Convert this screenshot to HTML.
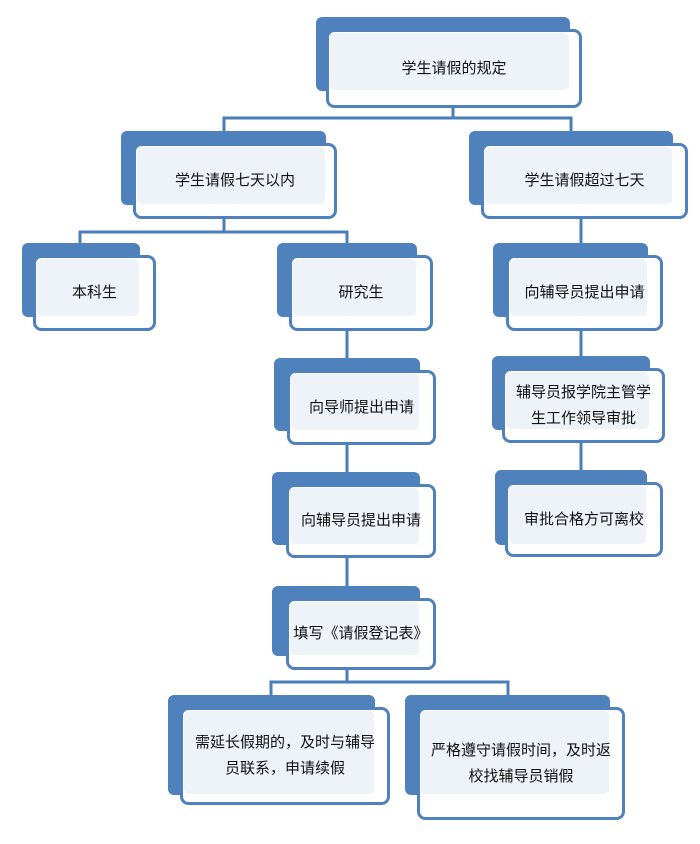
<!DOCTYPE html>
<html><head><meta charset="utf-8"><style>
body{margin:0;background:#fff;width:700px;height:844px;overflow:hidden}
svg{position:absolute;left:0;top:0}
.t{position:absolute;display:flex;align-items:center;justify-content:center;text-align:center;font-family:"Liberation Sans","Noto Sans CJK SC",sans-serif;font-size:15px;color:#111;line-height:26px}
</style></head><body>
<svg width="700" height="844" viewBox="0 0 700 844">
<g fill="none" stroke="#4a7ebb" stroke-width="3">
<path d="M453 107V118M224 131V118H571V131"/>
<path d="M224 219V232M80 243V232H347V243"/>
<path d="M581 219V243M581 331V358M581 441V472"/>
<path d="M347 331V358M347 445V472M347 558V586"/>
<path d="M347 670V682M271 695V682H508V695"/>
</g>
<g id="n"></g>
</svg>
<div id="c"></div>
<script>
var N=[
[316,17,570,91,326,29,582,108,"学生请假的规定"],
[121,131,326,205,133,143,337,219,"学生请假七天以内"],
[469,131,673,205,481,143,688,219,"学生请假超过七天"],
[22,243,140,317,33,255,156,331,"本科生"],
[277,243,417,317,289,255,433,331,"研究生"],
[493,243,648,317,506,255,663,331,"向辅导员提出申请"],
[274,358,420,431,287,370,436,445,"向导师提出申请"],
[492,356,650,430,502,368,665,443,"辅导员报学院主管学<br>生工作领导审批"],
[495,470,647,545,505,482,663,557,"审批合格方可离校"],
[272,472,420,545,286,484,436,558,"向辅导员提出申请"],
[272,586,420,656,286,598,436,670,"填写《请假登记表》"],
[168,695,375,795,180,707,390,805,"需延长假期的，及时与辅导<br>员联系，申请续假"],
[405,695,610,795,417,707,625,820,"严格遵守请假时间，及时返<br>校找辅导员销假"]];
var s="",h="";
N.forEach(function(a){
s+='<rect x="'+a[0]+'" y="'+a[1]+'" width="'+(a[2]-a[0])+'" height="'+(a[3]-a[1])+'" rx="6" fill="#4f81bd"/>';
s+='<rect x="'+(a[4]+1.5)+'" y="'+(a[5]+1.5)+'" width="'+(a[6]-a[4]-3)+'" height="'+(a[7]-a[5]-3)+'" rx="7" fill="#fff" stroke="#4f81bd" stroke-width="3"/>';
s+='<rect x="'+(a[4]+4)+'" y="'+(a[5]+4)+'" width="'+(a[2]-a[4]-5)+'" height="'+(a[3]-a[5]-5)+'" rx="5" fill="#eef2f9"/>';
h+='<div class="t" style="left:'+a[4]+'px;top:'+a[5]+'px;width:'+(a[6]-a[4])+'px;height:'+(a[7]-a[5])+'px">'+a[8]+'</div>';
});
document.getElementById("n").innerHTML=s;
document.getElementById("c").innerHTML=h;
</script>
</body></html>
